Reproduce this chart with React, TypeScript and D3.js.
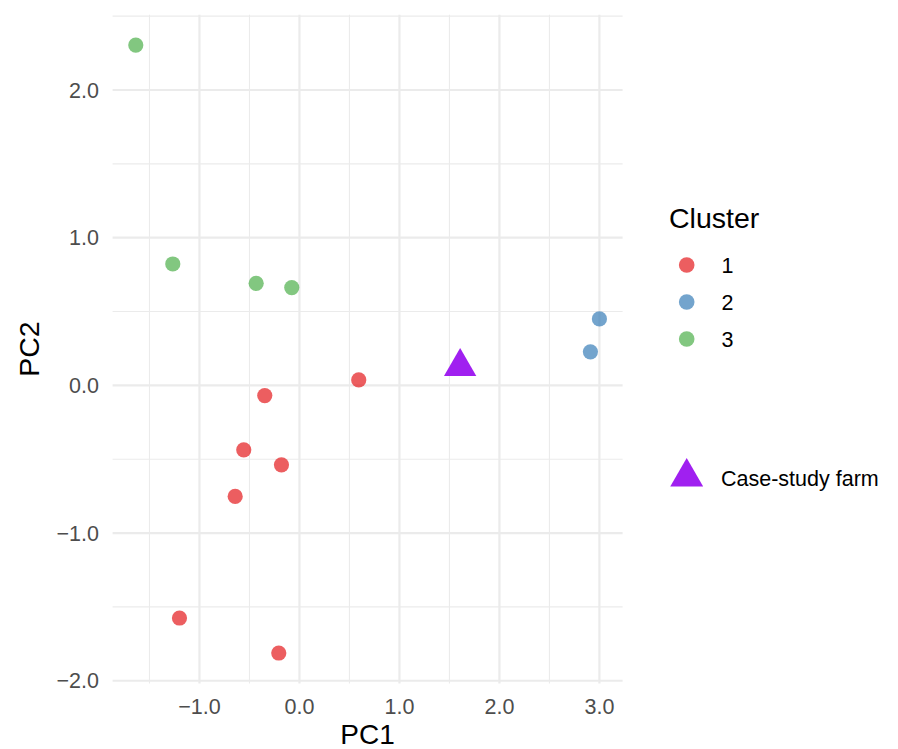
import React from 'react';
import * as d3 from 'd3';

// farm scores on the first two principal components
const cluster1X = [0.593, -0.347, -0.557, -0.18, -0.643, -1.2, -0.207];
const cluster1Y = [0.037, -0.069, -0.436, -0.538, -0.752, -1.575, -1.812];
const cluster2X = [3.0, 2.91];
const cluster2Y = [0.45, 0.227];
const cluster3X = [-1.637, -1.267, -0.433, -0.077];
const cluster3Y = [2.304, 0.822, 0.691, 0.662];
const caseFarmX = [1.607];
const caseFarmY = [0.127];

const clusterNames = ['1', '2', '3'];
const clusterColors = ['#E41A1C', '#377EB8', '#4DAF4A'];
const xTicks = [-1, 0, 1, 2, 3];
const yTicks = [-2, -1, 0, 1, 2];

const W = 898;
const H = 749;
const panel = { left: 112.6, right: 622.6, top: 14.7, bottom: 683.4 };
const FONT = '"Liberation Sans", Arial, Helvetica, sans-serif';

const series = [
  { xs: cluster1X, ys: cluster1Y },
  { xs: cluster2X, ys: cluster2Y },
  { xs: cluster3X, ys: cluster3Y },
];

const allX = [...cluster1X, ...cluster2X, ...cluster3X, ...caseFarmX];
const allY = [...cluster1Y, ...cluster2Y, ...cluster3Y, ...caseFarmY];

function expand(vals: number[]): [number, number] {
  const [lo, hi] = d3.extent(vals) as [number, number];
  const pad = (hi - lo) * 0.05;
  return [lo - pad, hi + pad];
}

const fmt = (v: number) => d3.format('.1f')(v).replace('-', '\u2212');

// R's pch 17 triangle, centred on the point
function triangle(cx: number, cy: number, h: number) {
  const r = (2 * h) / 3;
  const half = (r * Math.sqrt(3)) / 2;
  return `M${cx},${cy - r}L${cx + half},${cy + r / 2}L${cx - half},${cy + r / 2}Z`;
}

export default function App() {
  const xDom = expand(allX);
  const yDom = expand(allY);
  const x = d3.scaleLinear().domain(xDom).range([panel.left, panel.right]);
  const y = d3.scaleLinear().domain(yDom).range([panel.bottom, panel.top]);

  const xMinor = xTicks.map((t) => t - 0.5).concat([xTicks[xTicks.length - 1] + 0.5])
    .filter((t) => t >= xDom[0] && t <= xDom[1]);
  const yMinor = yTicks.map((t) => t - 0.5).concat([yTicks[yTicks.length - 1] + 0.5])
    .filter((t) => t >= yDom[0] && t <= yDom[1]);

  const legendKeyX = 686.7;
  const legendRow = (i: number) => 265 + i * 37;

  return (
    <div style={{ position: 'absolute', left: 0, top: 0 }}>
      <svg width={W} height={H} viewBox={`0 0 ${W} ${H}`} style={{ display: 'block', background: '#fff' }}>
        {/* grid */}
        <g>
          {xMinor.map((t) => (
            <line key={'xm' + t} x1={x(t)} x2={x(t)} y1={panel.top} y2={panel.bottom} stroke="#ebebeb" strokeWidth={1.1} />
          ))}
          {yMinor.map((t) => (
            <line key={'ym' + t} x1={panel.left} x2={panel.right} y1={y(t)} y2={y(t)} stroke="#ebebeb" strokeWidth={1.1} />
          ))}
          {xTicks.map((t) => (
            <line key={'xM' + t} x1={x(t)} x2={x(t)} y1={panel.top} y2={panel.bottom} stroke="#ebebeb" strokeWidth={2.2} />
          ))}
          {yTicks.map((t) => (
            <line key={'yM' + t} x1={panel.left} x2={panel.right} y1={y(t)} y2={y(t)} stroke="#ebebeb" strokeWidth={2.2} />
          ))}
        </g>

        {/* points */}
        {series.map((s, i) =>
          s.xs.map((v, j) => (
            <circle key={`p${i}-${j}`} cx={x(v)} cy={y(s.ys[j])} r={7.6} fill={clusterColors[i]} fillOpacity={0.7} />
          ))
        )}
        {caseFarmX.map((v, j) => (
          <path key={'cf' + j} d={triangle(x(v), y(caseFarmY[j]), 28)} fill="#A020F0" />
        ))}

        {/* axis labels */}
        <g fontFamily={FONT} fontSize={21.5} fill="#4d4d4d">
          {xTicks.map((t) => (
            <text key={'xt' + t} x={x(t)} y={714} textAnchor="middle">{fmt(t)}</text>
          ))}
          {yTicks.map((t) => (
            <text key={'yt' + t} x={99} y={y(t) + 7.6} textAnchor="end">{fmt(t)}</text>
          ))}
        </g>
        <text x={(panel.left + panel.right) / 2} y={744} textAnchor="middle" fontFamily={FONT} fontSize={28} fill="#000">PC1</text>
        <text
          transform={`translate(39,${(panel.top + panel.bottom) / 2}) rotate(-90)`}
          textAnchor="middle" fontFamily={FONT} fontSize={28.5} fill="#000"
        >PC2</text>

        {/* legend */}
        <g fontFamily={FONT} fill="#000">
          <text x={669} y={228} fontSize={28.5}>Cluster</text>
          {clusterNames.map((name, i) => (
            <g key={'lg' + name}>
              <circle cx={legendKeyX} cy={legendRow(i)} r={7.8} fill={clusterColors[i]} fillOpacity={0.7} />
              <text x={721.5} y={legendRow(i) + 8} fontSize={21.5}>{name}</text>
            </g>
          ))}
          <path d={triangle(legendKeyX, 477, 28.5)} fill="#A020F0" />
          <text x={721} y={485.5} fontSize={21.5}>Case-study farm</text>
        </g>
      </svg>
    </div>
  );
}
